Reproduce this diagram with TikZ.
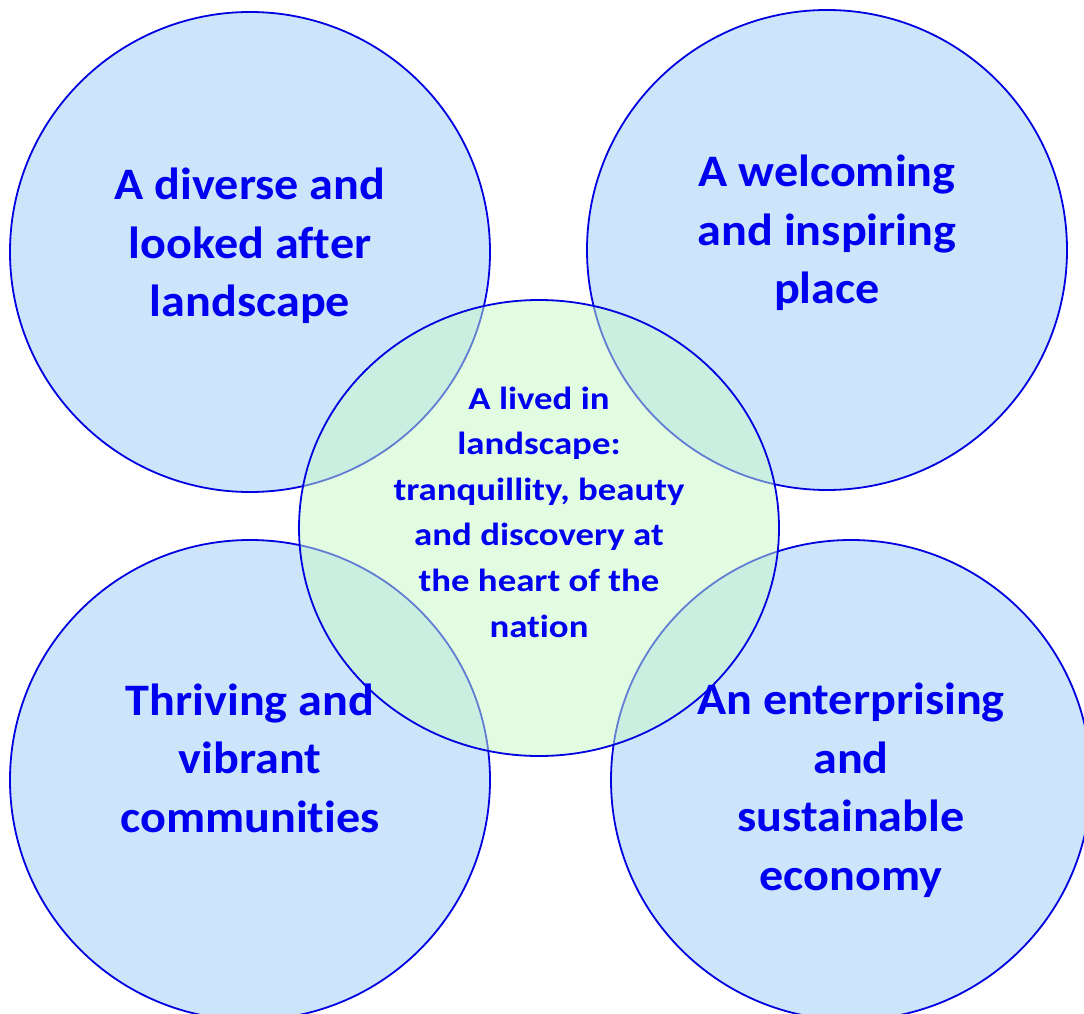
\documentclass[tikz,border=0pt]{standalone}
\usepackage{fontspec}
\setmainfont{Carlito}[Ligatures=NoCommon]
\newfontfamily\themefont{Carlito}[Ligatures=NoCommon,FakeStretch=1.07]
\newfontfamily\corefont{Carlito}[Ligatures=NoCommon,FakeStretch=1.15]
\definecolor{ringline}{RGB}{0,0,225}
\definecolor{ringfill}{RGB}{204,229,251}
\definecolor{corefill}{RGB}{198,250,198}
\definecolor{labeltext}{RGB}{0,0,240}
\begin{document}
\begin{tikzpicture}[x=1pt,y=-1pt,
  outer/.style={draw=ringline,line width=1.8pt,fill=ringfill},
  core/.style={draw=ringline,line width=1.8pt,fill=corefill,fill opacity=0.5},
  biglabel/.style={text=labeltext,align=center,font=\themefont\fontsize{45}{58.5}\selectfont\bfseries},
  smalllabel/.style={text=labeltext,align=center,font=\corefont\fontsize{32}{45.6}\selectfont\bfseries}]
\useasboundingbox (0,0) rectangle (1084,1014);
\clip (0,0) rectangle (1084,1014);
% four outer themes
\path[outer] (250,252) circle[radius=240];
\path[outer] (827,250) circle[radius=240];
\path[outer] (250,780) circle[radius=240];
\path[outer] (851,780) circle[radius=240];
% central theme, semi-transparent over the others
\path[core] (539,528) ellipse[x radius=240,y radius=228];
% labels
\node[biglabel] (tl) at (250,246) {A diverse and\\looked after\\landscape};
\node[biglabel] (tr) at (827,233) {A welcoming\\and inspiring\\place};
\node[biglabel] (bl) at (250,758) {Thriving and\\vibrant\\communities};
\node[biglabel] (br) at (851,790) {An enterprising\\and\\sustainable\\economy};
\node[smalllabel] (ct) at (539,512) {A lived in\\landscape:\\tranquillity, beauty\\and discovery at\\the heart of the\\nation};
\end{tikzpicture}
\end{document}
